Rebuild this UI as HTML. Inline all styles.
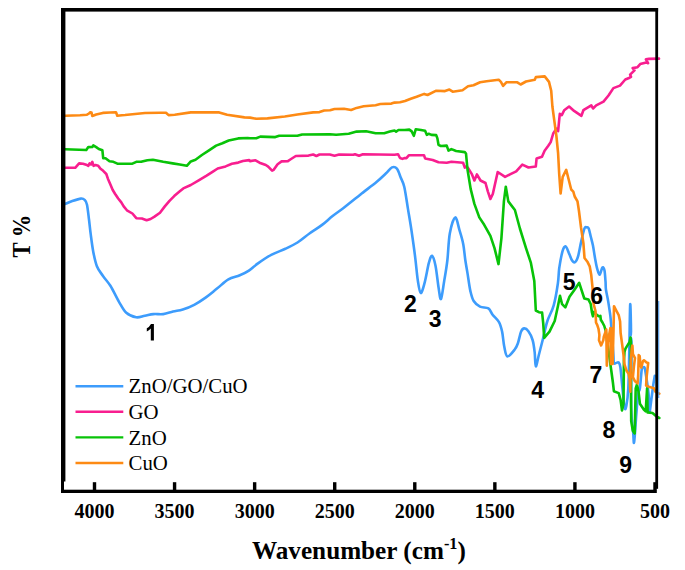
<!DOCTYPE html>
<html><head><meta charset="utf-8"><style>
html,body{margin:0;padding:0;background:#fff;}
svg{display:block;}
</style></head><body>
<svg width="685" height="570" viewBox="0 0 685 570">
<rect width="685" height="570" fill="#fff"/>
<g fill="none" stroke-width="2.6" stroke-linejoin="round" stroke-linecap="round">
<path stroke="#3d9cfc" d="M65.0,204.0 C66.2,203.5 69.6,201.9 72.3,201.0 C75.0,200.1 78.9,198.8 80.9,198.6 C83.0,198.4 83.6,198.8 84.6,199.8 C85.6,200.8 86.3,201.4 87.0,204.7 C87.7,208.0 88.4,214.6 89.0,219.5 C89.6,224.4 90.0,228.9 90.7,234.2 C91.4,239.5 92.2,246.1 93.2,251.4 C94.2,256.7 95.3,262.1 96.9,266.2 C98.5,270.3 100.8,272.7 103.0,276.0 C105.2,279.3 107.7,281.5 110.4,285.8 C113.1,290.1 116.3,297.3 119.0,301.8 C121.7,306.3 123.4,310.2 126.3,312.8 C129.2,315.4 133.1,316.8 136.2,317.3 C139.3,317.8 141.9,316.3 144.8,315.8 C147.7,315.3 150.3,314.4 153.4,314.1 C156.5,313.8 159.9,314.5 163.2,314.1 C166.5,313.7 169.7,312.4 173.0,311.6 C176.3,310.8 179.3,310.6 182.8,309.5 C186.3,308.4 190.4,306.8 194.2,304.8 C198.0,302.8 201.8,300.3 205.6,297.6 C209.4,294.9 213.2,291.6 217.0,288.6 C220.8,285.6 224.6,281.6 228.4,279.4 C232.2,277.2 236.4,276.8 239.8,275.3 C243.2,273.9 245.9,272.7 248.9,270.7 C251.9,268.7 254.2,266.1 258.0,263.4 C261.8,260.7 267.1,257.1 271.7,254.7 C276.3,252.3 281.1,250.8 285.4,248.8 C289.7,246.8 293.4,245.1 297.5,242.5 C301.6,239.9 305.7,236.1 309.8,233.2 C313.9,230.3 318.3,227.8 322.1,224.9 C325.9,222.0 329.1,218.8 332.6,216.0 C336.1,213.2 339.4,211.1 343.2,208.2 C347.0,205.3 352.3,201.1 355.4,198.6 C358.5,196.1 358.5,196.1 362.0,193.3 C365.5,190.5 372.5,185.3 376.5,182.0 C380.5,178.7 383.2,175.9 385.8,173.5 C388.4,171.1 390.1,168.2 392.0,167.4 C393.9,166.6 395.5,167.0 396.9,168.6 C398.3,170.2 399.4,174.1 400.6,177.2 C401.8,180.3 403.1,181.7 404.3,187.0 C405.5,192.3 406.8,201.7 408.0,209.1 C409.2,216.5 410.4,223.1 411.6,231.3 C412.8,239.5 414.3,250.1 415.3,258.3 C416.3,266.5 416.9,274.6 417.8,280.4 C418.7,286.2 419.6,292.6 420.7,293.0 C421.8,293.4 423.2,287.9 424.6,282.9 C426.0,277.9 427.6,267.7 428.8,263.2 C430.0,258.7 430.9,255.4 432.0,255.8 C433.1,256.2 434.4,260.4 435.5,265.7 C436.6,271.0 437.7,282.2 438.6,287.8 C439.5,293.4 440.1,300.1 441.0,299.0 C441.9,297.9 443.1,287.5 444.2,281.0 C445.3,274.5 446.5,267.9 447.4,260.0 C448.3,252.1 448.5,240.5 449.8,233.4 C451.1,226.3 453.6,217.8 455.2,217.4 C456.8,217.0 458.3,226.4 459.7,230.9 C461.1,235.4 462.4,239.6 463.3,244.4 C464.2,249.2 464.6,255.3 465.3,260.0 C466.0,264.7 466.5,267.3 467.4,272.6 C468.3,277.9 469.4,286.9 470.5,291.6 C471.6,296.3 472.1,298.5 473.7,301.0 C475.3,303.5 477.6,305.5 480.0,306.7 C482.4,307.9 486.3,307.1 488.4,308.4 C490.5,309.7 490.8,312.4 492.6,314.7 C494.4,317.0 497.4,319.3 499.0,322.1 C500.6,324.9 501.2,327.6 502.1,331.6 C503.0,335.6 503.3,342.2 504.2,346.3 C505.1,350.4 505.6,355.9 507.4,356.4 C509.1,356.9 513.0,351.7 514.7,349.5 C516.5,347.3 516.8,346.2 517.9,343.2 C519.0,340.2 520.0,334.1 521.1,331.6 C522.2,329.1 523.0,328.5 524.2,328.4 C525.4,328.3 527.0,329.3 528.4,331.2 C529.8,333.1 531.5,336.4 532.6,340.0 C533.7,343.6 534.2,348.2 534.7,352.6 C535.2,357.0 535.1,366.0 535.8,366.3 C536.5,366.6 537.7,359.4 538.9,354.7 C540.1,350.0 541.8,343.5 543.2,337.9 C544.6,332.3 545.6,326.4 547.4,321.0 C549.1,315.6 552.0,311.6 553.7,305.3 C555.5,299.0 557.0,289.4 557.9,283.2 C558.8,277.0 558.5,273.7 559.2,268.4 C560.0,263.1 561.4,255.3 562.4,251.6 C563.4,247.9 564.5,246.1 565.5,246.3 C566.5,246.5 567.7,250.3 568.7,252.6 C569.8,254.9 570.8,258.4 571.8,260.0 C572.8,261.6 573.9,262.8 575.0,262.1 C576.1,261.4 577.2,259.3 578.2,255.8 C579.2,252.3 580.2,245.7 581.3,241.1 C582.3,236.5 583.6,230.7 584.5,228.4 C585.4,226.1 585.9,227.4 586.6,227.4 C587.3,227.4 588.0,226.8 588.7,228.4 C589.4,230.0 590.1,234.0 590.8,236.8 C591.5,239.6 592.2,241.8 592.9,245.3 C593.6,248.8 594.3,254.0 595.0,257.9 C595.7,261.8 596.3,265.6 597.1,268.4 C597.9,271.2 598.7,274.9 599.6,274.7 C600.5,274.5 601.6,268.1 602.4,267.4 C603.2,266.7 604.0,268.2 604.5,270.5 C605.0,272.8 605.2,277.9 605.5,281.1 C605.8,284.4 605.5,286.6 606.0,290.0 C606.5,293.4 607.5,297.0 608.2,301.4 C608.9,305.8 609.9,312.1 610.4,316.3 C610.9,320.5 610.8,320.3 611.3,326.8 C611.8,333.3 613.0,349.1 613.4,355.1 C613.8,361.1 613.4,361.7 613.9,363.0 C614.4,364.3 615.3,363.1 616.1,363.0 C616.9,362.9 618.0,361.8 618.7,362.5 C619.4,363.2 619.8,363.2 620.4,367.4 C621.0,371.6 621.7,380.9 622.4,387.6 C623.1,394.3 623.8,404.6 624.5,407.6 C625.2,410.6 625.8,408.8 626.4,405.6 C627.0,402.4 627.8,397.6 628.3,388.3 C628.8,379.0 629.0,363.7 629.3,349.7 C629.6,335.7 629.9,307.4 630.2,304.4 C630.5,301.3 631.0,325.9 631.0,331.4 C631.0,336.9 630.0,335.2 630.1,337.5 C630.2,339.8 631.3,333.3 631.5,345.0 C631.7,356.7 630.9,393.0 631.2,407.6 C631.5,422.2 632.7,426.9 633.2,432.7 C633.7,438.5 633.6,444.9 634.1,442.3 C634.6,439.7 635.5,425.2 636.1,417.2 C636.8,409.2 637.4,398.9 638.0,394.1 C638.6,389.3 639.3,392.5 639.9,388.3 C640.5,384.1 641.3,372.1 641.8,368.7 C642.3,365.2 642.4,367.7 642.9,367.6 C643.4,367.5 644.1,366.1 644.7,368.0 C645.3,369.9 645.9,374.7 646.6,379.2 C647.3,383.7 648.2,389.5 648.7,395.0 C649.2,400.5 649.1,411.2 649.5,412.0 C649.9,412.8 650.6,404.7 651.3,400.0 C651.9,395.3 652.8,388.1 653.4,384.0 C654.0,379.9 654.6,377.1 654.8,375.7"/>
<polyline stroke="#f81e8f" points="65.0,167.8 75.2,167.8 79.1,163.4 83.0,163.8 87.0,165.1 88.3,165.8 89.6,163.4 91.0,164.5 92.3,161.8 93.6,165.8 95.6,165.1 98.2,165.8 100.2,168.4 103.2,170.8 106.3,174.0 107.9,178.7 110.3,184.2 112.6,189.8 115.0,193.7 118.2,198.5 121.3,202.4 123.7,206.4 126.9,210.3 132.4,213.5 136.3,218.2 141.9,218.5 146.6,220.3 150.6,219.0 154.5,216.6 160.0,212.7 164.8,206.4 169.5,200.8 174.2,196.1 179.8,191.3 183.3,188.4 190.8,185.0 198.7,180.3 206.6,175.6 212.9,171.6 217.7,168.5 225.6,166.4 231.9,163.7 238.2,162.6 242.9,161.0 249.2,160.1 250.0,161.1 255.5,160.3 259.5,162.7 265.8,165.0 268.2,166.6 272.1,170.6 273.7,169.8 277.6,164.2 281.6,161.4 287.9,161.1 290.3,159.5 295.8,156.0 308.5,155.6 313.2,154.5 316.4,156.0 319.5,154.5 329.8,154.5 334.5,155.8 339.2,154.5 353.4,154.8 355.0,154.2 359.0,155.8 362.9,154.2 394.5,154.8 398.0,154.2 400.0,158.0 402.4,158.9 404.8,158.0 406.4,158.2 408.8,155.3 424.0,155.3 425.1,158.4 432.7,160.0 438.5,162.3 446.7,162.7 451.4,161.7 463.1,162.7 464.8,167.6 466.6,166.4 468.3,168.3 472.0,174.4 474.4,180.5 476.9,174.4 480.5,180.5 485.5,183.0 487.9,191.6 490.4,199.0 492.8,194.0 497.7,172.0 505.1,176.9 510.0,174.4 516.2,171.4 522.3,164.6 528.5,167.5 535.8,166.5 536.6,158.4 542.0,156.7 544.6,150.7 548.3,145.8 550.7,142.1 553.2,133.5 556.4,128.6 558.1,131.1 559.8,113.9 561.8,115.1 564.2,110.2 569.1,106.5 574.1,110.9 581.4,115.8 583.4,110.2 591.3,105.3 593.0,108.5 596.2,105.3 603.5,101.6 608.5,95.5 613.4,88.1 620.0,85.6 625.3,79.5 629.6,77.7 631.0,76.8 630.1,74.6 633.2,71.6 634.5,70.3 632.7,68.1 637.5,67.2 640.2,64.1 646.3,62.4 648.1,63.2 645.9,59.3 648.9,58.9 659.0,58.6"/>
<polyline stroke="#08c308" points="65.0,149.3 86.3,150.0 88.3,147.1 92.3,147.0 93.3,145.4 96.2,147.1 98.8,149.0 102.4,150.3 103.2,158.2 105.5,158.2 109.5,161.3 113.4,161.8 117.4,163.7 132.4,163.7 136.3,161.8 141.1,161.8 147.4,160.2 152.9,159.7 163.2,161.8 172.7,163.4 179.8,164.5 186.8,165.8 190.8,161.4 195.5,159.8 201.9,155.0 209.0,150.3 216.1,145.6 222.4,143.2 228.7,140.5 238.2,138.4 247.7,138.0 250.0,138.2 256.3,138.2 260.3,136.6 275.3,137.1 279.2,135.8 297.4,135.8 302.1,134.5 329.8,134.2 336.1,134.8 348.7,133.7 356.6,131.6 366.1,131.3 375.6,133.2 384.2,133.2 389.8,131.6 394.5,130.5 396.1,131.6 398.5,130.0 404.8,130.0 409.3,129.6 411.7,131.4 413.8,135.8 415.8,129.2 421.0,130.0 425.1,130.8 426.9,134.9 428.6,133.7 431.5,134.9 436.2,135.1 437.4,138.4 438.5,144.8 440.9,146.0 446.7,145.6 448.5,150.6 451.4,149.1 456.1,151.0 464.8,152.1 466.0,153.5 467.5,169.5 470.7,189.1 474.4,203.9 479.3,217.4 484.2,224.8 490.4,235.8 494.5,248.1 498.5,264.1 501.4,238.3 503.9,201.4 505.8,186.7 508.3,201.4 514.9,210.0 519.9,228.5 526.0,248.1 530.9,262.9 534.3,281.0 535.8,310.5 538.9,312.2 542.1,312.6 543.2,323.2 544.2,337.9 549.5,331.6 554.7,321.0 557.9,306.3 560.0,295.8 562.1,304.2 565.3,307.4 569.5,296.8 574.7,289.5 579.2,282.8 584.3,298.5 588.5,299.6 590.7,304.0 592.0,312.8 592.9,316.3 593.8,311.9 596.4,314.6 599.0,316.3 600.4,315.9 600.8,319.8 602.5,322.5 604.3,326.0 605.6,330.4 606.3,335.0 608.2,348.1 609.5,357.7 611.2,370.0 612.9,382.5 613.9,391.2 618.7,393.1 620.6,399.8 622.0,410.5 623.5,403.7 623.9,361.3 624.5,351.8 625.5,348.7 628.7,343.4 629.6,341.9 630.5,337.5 631.0,341.9 630.8,359.3 631.2,421.1 632.8,430.7 634.7,433.5 635.7,388.3 637.0,384.4 638.6,392.1 639.9,403.7 643.8,409.5 645.7,411.4 647.1,388.3 647.6,412.4 652.5,413.0 656.3,416.3 659.3,418.0"/>
<polyline stroke="#fd8a14" points="65.0,115.8 80.0,115.3 87.0,114.7 89.0,113.5 90.3,112.3 91.5,112.5 92.3,116.0 96.2,114.5 102.8,112.9 110.0,112.5 116.0,112.3 117.3,115.8 122.0,115.2 125.0,115.0 135.0,114.0 145.0,113.0 160.0,112.7 166.0,112.7 168.6,115.1 174.7,114.7 190.8,112.4 219.2,112.4 227.1,114.7 244.5,117.4 250.0,117.6 256.3,118.8 267.4,118.4 284.8,116.5 297.4,114.5 313.2,112.4 319.5,112.1 324.2,110.5 330.0,110.3 334.5,109.0 344.0,108.7 351.1,110.0 356.6,107.9 363.7,106.3 375.6,105.2 380.3,104.0 391.4,103.6 394.5,102.6 400.0,102.3 405.0,101.0 410.8,98.8 416.6,96.8 424.2,93.9 427.5,95.0 436.3,90.7 445.0,91.1 449.4,89.6 452.7,91.7 462.5,90.2 468.0,86.3 473.5,85.2 480.1,82.3 486.6,81.2 498.7,79.7 500.9,81.9 503.1,85.8 506.3,82.3 517.3,82.3 520.6,84.5 526.0,81.5 534.8,79.7 535.9,77.1 544.7,76.4 549.0,81.9 551.2,90.7 552.4,106.5 554.4,121.3 556.4,136.0 558.1,153.2 559.2,174.0 560.6,193.5 562.7,176.8 566.2,169.8 571.2,189.5 573.3,191.6 574.7,196.5 577.5,201.4 578.9,210.5 581.0,227.4 583.4,243.2 584.5,257.9 587.6,262.1 589.7,266.3 591.2,274.7 592.5,287.4 593.6,304.0 595.5,311.0 596.0,322.5 597.3,325.1 598.5,328.8 599.4,334.9 599.0,340.2 601.1,345.4 603.3,340.2 603.8,336.7 606.3,329.6 606.8,365.6 607.8,342.0 610.4,328.0 610.8,364.0 612.0,328.5 612.6,364.0 613.6,327.0 614.0,306.2 616.0,310.0 618.8,315.4 620.1,321.6 620.6,333.0 622.3,345.5 623.4,354.0 624.5,364.5 626.6,370.8 628.7,374.0 629.7,379.2 630.3,391.8 630.8,361.3 631.8,348.7 632.4,345.5 632.9,354.0 635.0,358.2 633.9,366.6 632.9,377.1 635.0,381.3 637.6,383.4 638.2,375.0 638.7,355.0 639.7,356.1 640.3,364.5 641.3,367.6 642.9,361.3 644.0,360.3 646.6,362.4 648.2,362.9 646.6,377.1 646.1,385.5 649.7,387.1 653.9,388.2 655.5,391.8 659.3,393.6"/>
</g>
<line x1="658.7" y1="301" x2="658.7" y2="398" stroke="#3d9cfc" stroke-width="1.2" opacity="0.8"/>
<g fill="#000">
<rect x="61" y="8" width="597.1" height="3.6"/>
<rect x="61" y="8" width="4.4" height="473.5"/>
<rect x="61" y="8" width="3" height="485"/>
<rect x="655.3" y="8" width="2.8" height="480.8"/>
<rect x="61" y="489.7" width="595.8" height="3.3"/>
<rect x="92.80" y="482.2" width="3.4" height="8"/><rect x="172.87" y="482.2" width="3.4" height="8"/><rect x="252.94" y="482.2" width="3.4" height="8"/><rect x="333.01" y="482.2" width="3.4" height="8"/><rect x="413.08" y="482.2" width="3.4" height="8"/><rect x="493.15" y="482.2" width="3.4" height="8"/><rect x="573.22" y="482.2" width="3.4" height="8"/><rect x="653.29" y="482.2" width="3.4" height="8"/>
</g>
<g font-family="Liberation Serif" font-weight="bold" font-size="20" fill="#000"><text x="94.50" y="517.5" text-anchor="middle">4000</text><text x="174.57" y="517.5" text-anchor="middle">3500</text><text x="254.64" y="517.5" text-anchor="middle">3000</text><text x="334.71" y="517.5" text-anchor="middle">2500</text><text x="414.78" y="517.5" text-anchor="middle">2000</text><text x="494.85" y="517.5" text-anchor="middle">1500</text><text x="574.92" y="517.5" text-anchor="middle">1000</text><text x="654.99" y="517.5" text-anchor="middle">500</text></g>
<text x="358.9" y="559.2" font-family="Liberation Serif" font-weight="bold" font-size="25.2" text-anchor="middle">Wavenumber (cm<tspan font-size="16.3" dy="-10.5">-1</tspan><tspan dy="10.5">)</tspan></text>
<text transform="translate(29.7,236) rotate(-90) scale(0.943,1.078)" font-family="Liberation Serif" font-weight="bold" font-size="24" text-anchor="middle">T %</text>
<g font-family="Liberation Serif" font-size="20" fill="#000"><line x1="75.5" y1="386.2" x2="123.3" y2="386.2" stroke="#3d9cfc" stroke-width="2.4"/><text transform="translate(128.6,393.4) scale(1.04,1)" x="0" y="0">ZnO/GO/CuO</text><line x1="75.5" y1="411.8" x2="123.3" y2="411.8" stroke="#f81e8f" stroke-width="2.4"/><text transform="translate(128.6,419.0) scale(1.04,1)" x="0" y="0">GO</text><line x1="75.5" y1="437.4" x2="123.3" y2="437.4" stroke="#08c308" stroke-width="2.4"/><text transform="translate(128.6,444.6) scale(1.04,1)" x="0" y="0">ZnO</text><line x1="75.5" y1="463.0" x2="123.3" y2="463.0" stroke="#fd8a14" stroke-width="2.4"/><text transform="translate(128.6,470.2) scale(1.04,1)" x="0" y="0">CuO</text></g>
<g font-family="Liberation Sans" font-weight="bold" font-size="23" fill="#000"><text x="403.91" y="312.30">2</text><text x="428.64" y="326.90">3</text><text x="531.34" y="398.30">4</text><text x="562.81" y="290.10">5</text><text x="590.28" y="304.10">6</text><text x="589.58" y="382.50">7</text><text x="602.41" y="437.80">8</text><text x="619.18" y="473.00">9</text></g>
<path d="M153.9,323.9 L153.9,340.4 L150.8,340.4 L150.8,328.6 Q149,330.5 146.8,331.5 L146.8,328.2 Q149.4,326.9 151,323.9 Z" fill="#000"/>
</svg>
</body></html>
